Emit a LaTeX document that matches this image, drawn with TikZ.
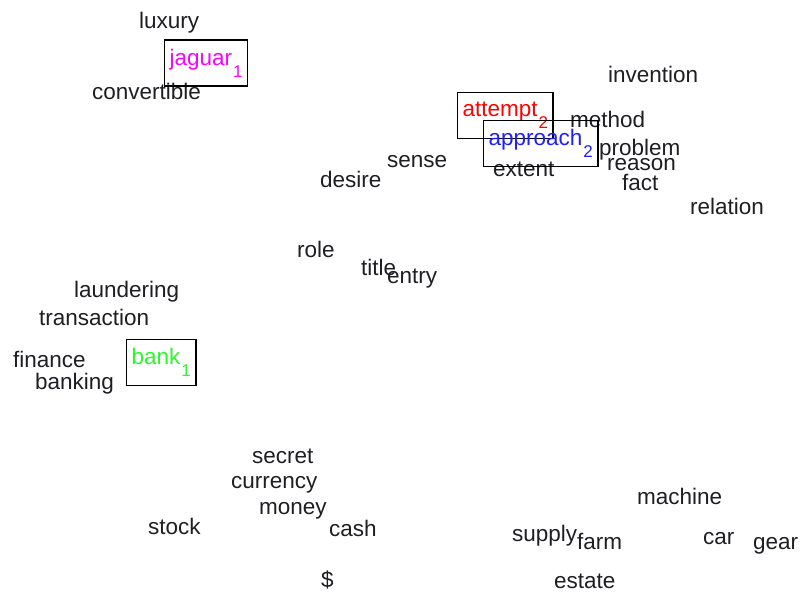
\documentclass[tikz,border=0pt]{standalone}
\usepackage{fontspec}
\newfontfamily\wordfont{Liberation Sans}
\usetikzlibrary{positioning}

% lowered sense index after a word
\newcommand\idx[1]{\kern1pt\raisebox{-12pt}{\fontsize{17}{17}\selectfont#1}}

\definecolor{wordgray}{RGB}{30,30,35}
\definecolor{jagcol}{RGB}{255,0,255}
\definecolor{bankcol}{RGB}{40,250,40}
\definecolor{appcol}{RGB}{30,30,255}

\begin{document}
\begin{tikzpicture}[
  x=1pt, y=-1pt,
  word/.style={anchor=base west, inner sep=0pt, text=wordgray,
    font=\wordfont\fontsize{22.5}{25}\selectfont},
  sensebox/.style={draw, line width=1.3pt, anchor=west, inner xsep=5pt,
    inner ysep=0pt, minimum height=46pt,
    font=\wordfont\fontsize{22.5}{25}\selectfont}
]
\useasboundingbox (0,0) rectangle (803,593);

% car cluster
\node[word] (luxury) at (139,29) {luxury};
\node[word] (convertible) at (92,100) {convertible};
\node[sensebox, text=jagcol] (jaguar) at (164,63) {jaguar\idx{1}};

% abstract nouns
\node[word] (invention) at (608,83) {invention};
\node[word] (method) at (570,128) {method};
\node[word] (problem) at (599,156) {problem};
\node[word] (reason) at (607,171) {reason};
\node[word] (fact) at (622,191) {fact};
\node[word] (extent) at (493,177) {extent};
\node[word] (relation) at (690,215) {relation};
\node[word] (sense) at (387,168) {sense};
\node[word] (desire) at (320,188) {desire};
\node[word] (role) at (297,258) {role};
\node[word] (title) at (361,276) {title};
\node[word] (entry) at (387,284) {entry};
\node[sensebox, text=red] (attempt) at (457,115.5) {attempt\idx{2}};
\node[sensebox, text=appcol] (approach) at (483,143.5) {approach\idx{2}};

% finance cluster
\node[word] (laundering) at (74,298) {laundering};
\node[word] (transaction) at (39,326) {transaction};
\node[word] (finance) at (13,368) {finance};
\node[word] (banking) at (35,389) {banking};
\node[sensebox, text=bankcol] (bank) at (126,362.5) {bank\idx{1}};

% money words
\node[word] (secret) at (252,463) {secret};
\node[word] (currency) at (231,488) {currency};
\node[word] (money) at (259,514) {money};
\node[word] (stock) at (148,534) {stock};
\node[word] (cash) at (329,536) {cash};
\node[word] (dollar) at (321,587) {\$};

% machinery and land
\node[word] (machine) at (637,504) {machine};
\node[word] (supply) at (512,541) {supply};
\node[word] (farm) at (577,549) {farm};
\node[word] (car) at (703,544) {car};
\node[word] (gear) at (753,549) {gear};
\node[word] (estate) at (554,588) {estate};

\end{tikzpicture}
\end{document}
